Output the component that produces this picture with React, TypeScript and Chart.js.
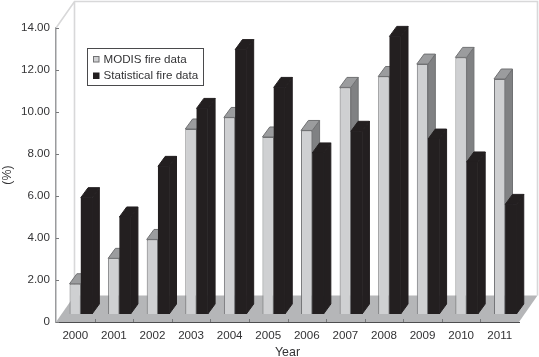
import React, { useEffect, useRef } from "react";
import { Chart, registerables } from "chart.js";

Chart.register(...registerables);

const years = ["2000","2001","2002","2003","2004","2005","2006","2007","2008","2009","2010","2011"];
const modis = [1.44,2.65,3.55,8.81,9.36,8.43,8.74,10.79,11.31,11.9,12.22,11.19];
const statistical = [5.54,4.62,7.03,9.79,12.59,10.79,7.67,8.7,13.22,8.33,7.24,5.22];
const yTickLabels = ["0","2.00","4.00","6.00","8.00","10.00","12.00","14.00"];
const seriesNames = ["MODIS fire data","Statistical fire data"];

const FONT = '"Liberation Sans", Arial, sans-serif';
const TEXT = "#333335";
const WALL_DX = 18.5, WALL_DY = 26.5;
const BAR_SHIFT_X = 5.5, BAR_SHIFT_Y = 8;
const BAR_DX = 7.3, BAR_DY = 10;
const faces = [
  { front: "#cfd0d2", top: "#9b9c9e", side: "#808183", edge: "#707173" },
  { front: "#231f20", top: "#231f20", side: "#231f20", edge: "#231f20" },
];

function poly(ctx: CanvasRenderingContext2D, pts: number[][], fill: string, stroke?: string, lw = 1) {
  ctx.beginPath();
  pts.forEach((p, i) => (i ? ctx.lineTo(p[0], p[1]) : ctx.moveTo(p[0], p[1])));
  ctx.closePath();
  ctx.fillStyle = fill;
  ctx.fill();
  if (stroke) { ctx.strokeStyle = stroke; ctx.lineWidth = lw; ctx.stroke(); }
}

const scene3d = {
  id: "scene3d",
  beforeDatasetsDraw(chart: any) {
    const { ctx, chartArea: a, scales } = chart;
    // floor
    poly(ctx, [[a.left, a.bottom], [a.left + WALL_DX, a.bottom - WALL_DY], [a.right + WALL_DX, a.bottom - WALL_DY], [a.right, a.bottom]], "#b5b6b8");
    // walls
    ctx.strokeStyle = "#d8d8d9";
    ctx.lineWidth = 1.6;
    ctx.beginPath();
    ctx.moveTo(a.left, a.top);
    ctx.lineTo(a.left + WALL_DX, a.top - WALL_DY);
    ctx.lineTo(a.right + WALL_DX, a.top - WALL_DY);
    ctx.lineTo(a.right + WALL_DX, a.bottom - WALL_DY);
    ctx.moveTo(a.left + WALL_DX, a.top - WALL_DY);
    ctx.lineTo(a.left + WALL_DX, a.bottom - WALL_DY);
    ctx.stroke();
    // inward tick marks
    ctx.strokeStyle = "#77787a";
    ctx.lineWidth = 1;
    ctx.beginPath();
    scales.y.ticks.forEach((t: any) => {
      const y = Math.round(scales.y.getPixelForValue(t.value)) + 0.5;
      ctx.moveTo(a.left, y);
      ctx.lineTo(a.left + 3, y);
    });
    const w = (a.right - a.left) / years.length;
    for (let i = 1; i < years.length; i++) {
      const x = Math.round(a.left + i * w) + 0.5;
      ctx.moveTo(x, a.bottom);
      ctx.lineTo(x, a.bottom - 3);
    }
    ctx.stroke();
    // bars, back-to-front: left series first so the right one overlaps it
    [0, 1].forEach((di) => {
      const meta = chart.getDatasetMeta(di);
      const f = faces[di];
      ctx.save();
      ctx.translate(BAR_SHIFT_X, -BAR_SHIFT_Y);
      meta.data.forEach((el: any) => {
        const { x, y, base, width } = el.getProps(["x", "y", "base", "width"], true);
        const r = x + width / 2, l = x - width / 2;
        poly(ctx, [[r, y], [r + BAR_DX, y - BAR_DY], [r + BAR_DX, base - BAR_DY], [r, base]], f.side, f.edge);
        poly(ctx, [[l, y], [l + BAR_DX, y - BAR_DY], [r + BAR_DX, y - BAR_DY], [r, y]], f.top, f.edge);
      });
      meta.controller.draw();
      ctx.restore();
    });
    return false;
  },
  afterDraw(chart: any) {
    const { ctx } = chart;
    ctx.save();
    ctx.fillStyle = "#ffffff";
    ctx.strokeStyle = "#4a4a4c";
    ctx.lineWidth = 1;
    ctx.fillRect(87.5, 48.5, 116, 37);
    ctx.strokeRect(87.5, 48.5, 116, 37);
    ctx.font = `11.6px ${FONT}`;
    ctx.textBaseline = "middle";
    ctx.textAlign = "left";
    seriesNames.forEach((name, i) => {
      const cy = 59 + i * 16.5;
      ctx.fillStyle = faces[i].front;
      ctx.strokeStyle = faces[i].edge;
      ctx.fillRect(93.5, cy - 2.5, 5.5, 5.5);
      ctx.strokeRect(93.5, cy - 2.5, 5.5, 5.5);
      ctx.fillStyle = TEXT;
      ctx.fillText(name, 103.5, cy + 0.5);
    });
    ctx.restore();
  },
};

export default function App() {
  const ref = useRef<HTMLCanvasElement | null>(null);
  useEffect(() => {
    const chart = new Chart(ref.current as HTMLCanvasElement, {
      type: "bar",
      data: {
        labels: years,
        datasets: [
          { label: seriesNames[0], data: modis, backgroundColor: faces[0].front, borderColor: faces[0].edge, borderWidth: 1 },
          { label: seriesNames[1], data: statistical, backgroundColor: faces[1].front, borderWidth: 0 },
        ],
      },
      options: {
        responsive: false,
        animation: false,
        layout: { padding: { top: 28, right: 20, left: 0, bottom: 0 } },
        datasets: { bar: { categoryPercentage: 0.583, barPercentage: 1 } },
        plugins: { legend: { display: false }, tooltip: { enabled: false }, title: { display: false } },
        scales: {
          x: {
            grid: { display: false, tickLength: 0 },
            border: { display: true, color: "#4d4d4f", width: 1 },
            ticks: { color: TEXT, font: { family: FONT, size: 11.6 }, padding: 7, maxRotation: 0, autoSkip: false },
            title: { display: true, text: "Year", color: TEXT, font: { family: FONT, size: 12.4 }, padding: { top: 0, bottom: -3 } },
            afterFit: (s: any) => { s.height = 35; },
          },
          y: {
            min: 0,
            max: 14,
            grid: { display: false, tickLength: 0 },
            border: { display: true, color: "#9a9b9d", width: 1.5 },
            ticks: {
              stepSize: 2,
              color: TEXT,
              font: { family: FONT, size: 11.6 },
              padding: 6,
              callback: (_v: any, i: number) => yTickLabels[i],
            },
            title: { display: true, text: "(%)", color: TEXT, font: { family: FONT, size: 12.4 }, padding: 0 },
            afterFit: (s: any) => { s.width = 56; },
          },
        },
      },
      plugins: [scene3d],
    } as any);
    return () => chart.destroy();
  }, []);
  return (
    <div style={{ position: "absolute", left: 0, top: 0, width: 539, height: 357 }}>
      <canvas ref={ref} width={539} height={357} style={{ display: "block" }} />
    </div>
  );
}
